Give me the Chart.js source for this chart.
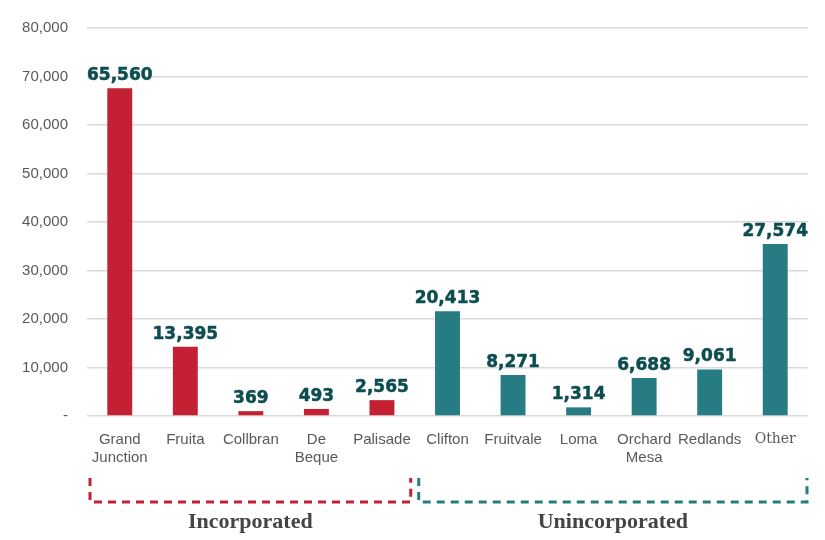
<!DOCTYPE html>
<html>
<head>
<meta charset="utf-8">
<script src="https://cdn.jsdelivr.net/npm/chart.js@4/dist/chart.umd.min.js"></script>
<style>
  html, body { margin: 0; padding: 0; background: #fff; }
  #wrap { width: 825px; height: 540px; }
</style>
</head>
<body>
<div id="wrap"><canvas id="popChart" width="825" height="540"></canvas></div>
<script>
// categorias y valores
const categories = [["Grand", "Junction"], "Fruita", "Collbran", ["De", "Beque"], "Palisade",
  "Clifton", "Fruitvale", "Loma", ["Orchard", "Mesa"], "Redlands", "Other"];
const barValues = [67600, 14300, 1000, 1450, 3270, 21600, 8450, 1780, 7850, 9600, 35450];
const labelValues = ["65,560", "13,395", "369", "493", "2,565", "20,413", "8,271", "1,314", "6,688", "9,061", "27,574"];
const yTicks = [0, 10000, 20000, 30000, 40000, 50000, 60000, 70000, 80000];
const groupNames = ["Incorporated", "Unincorporated"];
const groupRanges = [[0, 4], [5, 10]];

const RED = "#c32033";
const TEAL = "#267c82";
const groupColors = [RED, TEAL];

const barColors = barValues.map((v, i) => (i <= groupRanges[0][1] ? RED : TEAL));

// etiquetas de valor encima de cada barra
const valueLabels = {
  id: "valueLabels",
  afterDatasetsDraw(chart) {
    const ctx = chart.ctx;
    const meta = chart.getDatasetMeta(0);
    ctx.save();
    ctx.font = "bold 17px 'DejaVu Sans'";
    ctx.fillStyle = "#0d4d4f";
    ctx.strokeStyle = "#0d4d4f";
    ctx.lineWidth = 0.5;
    ctx.lineJoin = "round";
    ctx.textAlign = "center";
    ctx.textBaseline = "bottom";
    meta.data.forEach((bar, i) => {
      ctx.fillText(labelValues[i], bar.x, bar.y - 4);
      ctx.strokeText(labelValues[i], bar.x, bar.y - 4);
    });
    ctx.restore();
  },
};

// corchetes punteados de los grupos
const groupBrackets = {
  id: "groupBrackets",
  afterDraw(chart) {
    const ctx = chart.ctx;
    const x = chart.scales.x;
    const half = (x.right - x.left) / categories.length / 2;
    const top = 478, bottom = 502;
    ctx.save();
    groupRanges.forEach((r, g) => {
      const left = x.getPixelForValue(r[0]) - half + (g === 0 ? 3 : 4);
      const right = x.getPixelForValue(r[1]) + half - (g === 0 ? 4 : 1);
      ctx.strokeStyle = groupColors[g];
      ctx.lineWidth = 3;
      ctx.setLineDash([8, 6]);
      ctx.beginPath();
      ctx.moveTo(left, top);
      ctx.lineTo(left, bottom);
      ctx.lineTo(right, bottom);
      ctx.lineTo(right, top);
      ctx.stroke();
      ctx.setLineDash([]);
      ctx.font = "bold 22px 'Liberation Serif'";
      ctx.fillStyle = "#444444";
      ctx.textAlign = "center";
      ctx.textBaseline = "middle";
      ctx.fillText(groupNames[g], (left + right) / 2, 522);
    });
    ctx.restore();
  },
};

new Chart(document.getElementById("popChart"), {
  type: "bar",
  data: {
    labels: categories,
    datasets: [{
      data: barValues,
      backgroundColor: barColors,
      barPercentage: 0.38,
      categoryPercentage: 1,
    }],
  },
  options: {
    responsive: false,
    animation: false,
    layout: { padding: { top: 17, right: 17, left: 0, bottom: 0 } },
    plugins: { legend: { display: false }, tooltip: { enabled: false } },
    scales: {
      x: {
        grid: { display: false },
        border: { display: false },
        ticks: {
          color: "#595959",
          padding: 7,
          maxRotation: 0,
          autoSkip: false,
          font: (c) => (c.index === 10
            ? { family: "'DejaVu Serif'", size: 14 }
            : { family: "'Liberation Sans', Arial", size: 15 }),
        },
        afterFit(scale) { scale.height = 124; },
      },
      y: {
        min: 0,
        max: 80000,
        afterBuildTicks(scale) { scale.ticks = yTicks.map((v) => ({ value: v })); },
        grid: { color: "#d9d9d9", lineWidth: 1.5, drawTicks: false },
        border: { display: false },
        ticks: {
          color: "#595959",
          padding: 19,
          font: { family: "'Liberation Sans', Arial", size: 15 },
          callback: (v) => (v === 0 ? "-" : v.toLocaleString("en-US")),
        },
        afterFit(scale) { scale.width = 87; },
      },
    },
  },
  plugins: [valueLabels, groupBrackets],
});
</script>
</body>
</html>
